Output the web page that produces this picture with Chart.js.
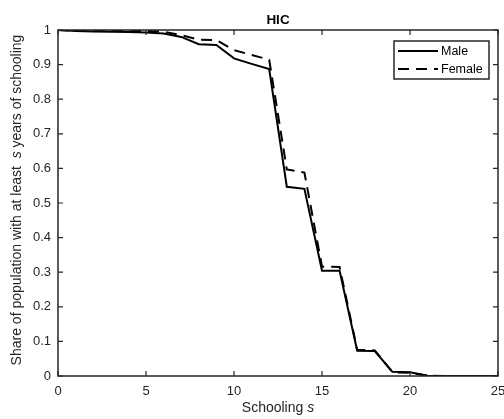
<!DOCTYPE html>
<html>
<head>
<meta charset="utf-8">
<title>HIC</title>
<script src="https://cdn.jsdelivr.net/npm/chart.js@4"></script>
<style>
  html, body { margin: 0; padding: 0; background: #fff; }
  #wrap { width: 504px; height: 419px; }
</style>
</head>
<body>
<div id="wrap"><canvas id="myChart" width="504" height="419"></canvas></div>
<script>
// years of schooling
var schooling = [0,1,2,3,4,5,6,7,8,9,10,11,12,13,14,15,16,17,18,19,20,21,22,23,24,25];
// share with at least s years
var male   = [1.0,0.997,0.996,0.995,0.994,0.993,0.99,0.98,0.959,0.957,0.918,0.902,0.887,0.547,0.541,0.304,0.304,0.073,0.072,0.012,0.011,0.001,0,0,0,0];
var female = [1.0,0.998,0.998,0.998,0.997,0.997,0.995,0.985,0.972,0.971,0.942,0.928,0.914,0.597,0.588,0.316,0.315,0.076,0.074,0.011,0.009,0.001,0,0,0,0];
var xTicks = [0,5,10,15,20,25];
var yTicks = [0,0.1,0.2,0.3,0.4,0.5,0.6,0.7,0.8,0.9,1];

var axisColor = '#262626';
var fontFam = 'Liberation Sans, Arial, Helvetica, sans-serif';

function pts(ys) {
  return schooling.map(function (s, i) { return { x: s, y: ys[i] }; });
}

// draws a run of differently styled pieces centred at 0,0
function mixedText(ctx, parts) {
  var w = 0;
  parts.forEach(function (p) { ctx.font = p.font; p.w = ctx.measureText(p.t).width; w += p.w; });
  var x = -w / 2;
  parts.forEach(function (p) {
    ctx.font = p.font;
    ctx.fillText(p.t, x, 0);
    x += p.w;
  });
}

var matlabAxes = {
  id: 'matlabAxes',
  afterDraw: function (chart) {
    var ctx = chart.ctx, a = chart.chartArea;
    var xs = chart.scales.x, ys = chart.scales.y;
    ctx.save();
    ctx.strokeStyle = axisColor;
    ctx.lineWidth = 1.5;
    ctx.strokeRect(a.left, a.top, a.right - a.left, a.bottom - a.top);

    // inward ticks on all four sides
    ctx.lineWidth = 1.2;
    ctx.beginPath();
    xTicks.forEach(function (v) {
      var px = xs.getPixelForValue(v);
      ctx.moveTo(px, a.bottom); ctx.lineTo(px, a.bottom - 5);
      ctx.moveTo(px, a.top); ctx.lineTo(px, a.top + 5);
    });
    yTicks.forEach(function (v) {
      var py = ys.getPixelForValue(v);
      ctx.moveTo(a.left, py); ctx.lineTo(a.left + 5, py);
      ctx.moveTo(a.right, py); ctx.lineTo(a.right - 5, py);
    });
    ctx.stroke();

    // title
    ctx.fillStyle = '#000';
    ctx.textAlign = 'center';
    ctx.textBaseline = 'middle';
    ctx.font = 'bold 13.5px ' + fontFam;
    ctx.fillText('HIC', (a.left + a.right) / 2, 20);

    // axis titles
    ctx.fillStyle = axisColor;
    ctx.textAlign = 'left';
    ctx.save();
    ctx.translate((a.left + a.right) / 2, 408);
    mixedText(ctx, [
      { t: 'Schooling ', font: '14px ' + fontFam },
      { t: 's', font: 'italic 14px ' + fontFam }
    ]);
    ctx.restore();

    ctx.save();
    ctx.translate(17, 200);
    ctx.rotate(-Math.PI / 2);
    mixedText(ctx, [
      { t: 'Share of population with at least  ', font: '14px ' + fontFam },
      { t: 's', font: 'italic 14px ' + fontFam },
      { t: ' years of schooling', font: '14px ' + fontFam }
    ]);
    ctx.restore();

    // legend box
    var bx = 394, by = 41, bw = 95, bh = 38;
    ctx.fillStyle = '#fff';
    ctx.fillRect(bx, by, bw, bh);
    ctx.strokeStyle = axisColor;
    ctx.lineWidth = 1.5;
    ctx.strokeRect(bx, by, bw, bh);
    chart.data.datasets.forEach(function (ds, i) {
      var ly = by + 10 + i * 18;
      ctx.strokeStyle = ds.borderColor;
      ctx.lineWidth = ds.borderWidth;
      ctx.setLineDash(ds.borderDash || []);
      ctx.beginPath();
      ctx.moveTo(bx + 4, ly);
      ctx.lineTo(bx + 44, ly);
      ctx.stroke();
      ctx.setLineDash([]);
      ctx.fillStyle = '#000';
      ctx.font = '12.5px ' + fontFam;
      ctx.textBaseline = 'middle';
      ctx.fillText(ds.label, bx + 47, ly + 0.5);
    });
    ctx.restore();
  }
};

var ctx = document.getElementById('myChart');
var myChart = new Chart(ctx, {
  type: 'line',
  data: {
    datasets: [
      {
        label: 'Male',
        data: pts(male),
        borderColor: '#000',
        borderWidth: 2,
        pointRadius: 0,
        fill: false
      },
      {
        label: 'Female',
        data: pts(female),
        borderColor: '#000',
        borderWidth: 2,
        borderDash: [11, 7],
        pointRadius: 0,
        fill: false
      }
    ]
  },
  options: {
    responsive: false,
    animation: false,
    layout: { autoPadding: false, padding: { left: 0, top: 30, right: 6, bottom: 0 } },
    plugins: {
      legend: { display: false },
      tooltip: { enabled: false }
    },
    scales: {
      x: {
        type: 'linear',
        min: 0, max: 25,
        afterBuildTicks: function (s) { s.ticks = xTicks.map(function (v) { return { value: v }; }); },
        afterFit: function (s) { s.height = 43; s.paddingLeft = 0; s.paddingRight = 0; },
        grid: { display: false, drawTicks: false },
        border: { display: false },
        ticks: { color: axisColor, padding: 8, maxRotation: 0, font: { family: fontFam, size: 13 } }
      },
      y: {
        min: 0, max: 1,
        afterBuildTicks: function (s) { s.ticks = yTicks.map(function (v) { return { value: v }; }); },
        afterFit: function (s) { s.width = 58; s.paddingTop = 0; s.paddingBottom = 0; },
        grid: { display: false, drawTicks: false },
        border: { display: false },
        ticks: {
          color: axisColor, padding: 7, font: { family: fontFam, size: 13 },
          callback: function (v) { return String(+v.toFixed(1)); }
        }
      }
    }
  },
  plugins: [matlabAxes]
});
</script>
</body>
</html>
